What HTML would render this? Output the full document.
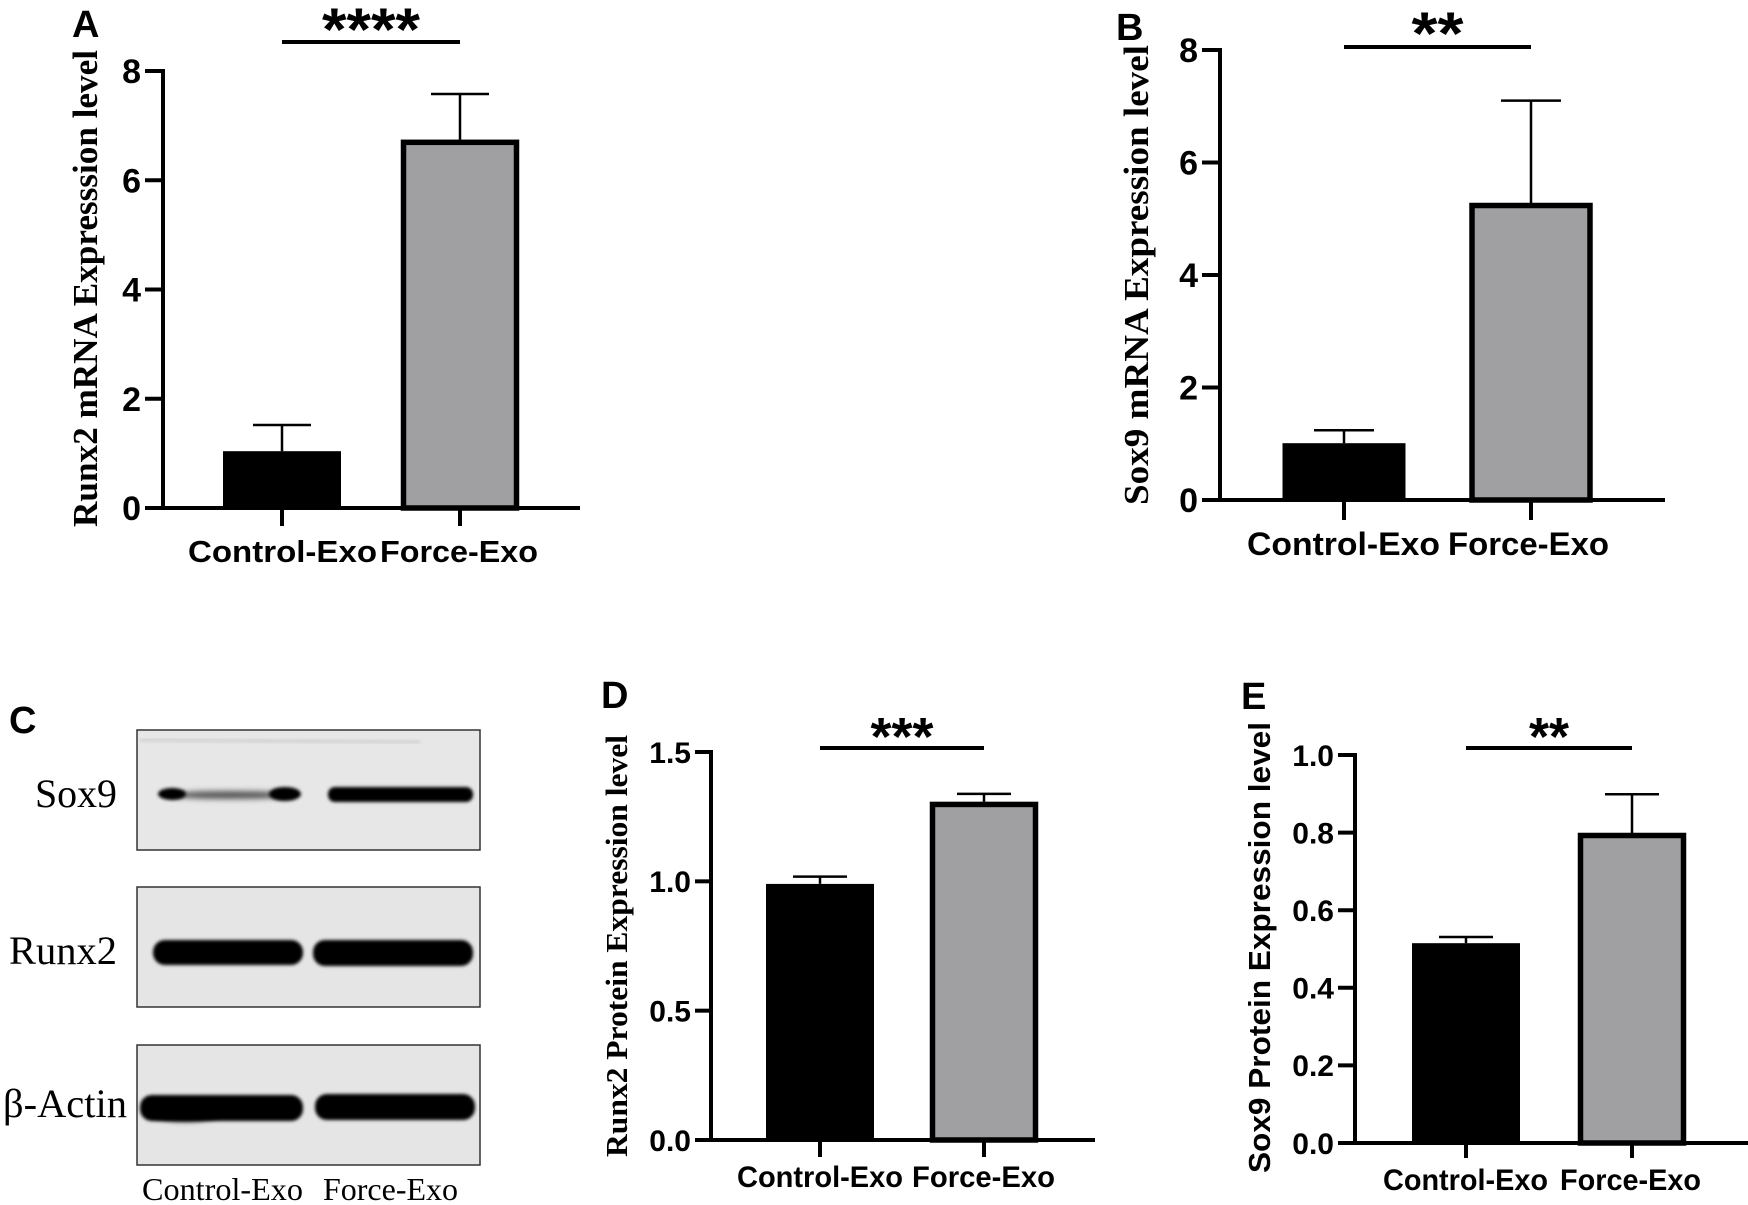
<!DOCTYPE html>
<html><head><meta charset="utf-8">
<style>
html,body{margin:0;padding:0;background:#fff;}
svg{display:block;}
.tk{font-family:"Liberation Sans",Arial,sans-serif;font-weight:bold;fill:#000;}
.xl{font-family:"Liberation Sans",Arial,sans-serif;font-weight:bold;fill:#000;}
.pl{font-family:"Liberation Sans",Arial,sans-serif;font-weight:bold;font-size:38px;fill:#000;}
.st{font-family:"Liberation Sans",Arial,sans-serif;font-weight:bold;fill:#000;}
.serif{font-family:"Liberation Serif","Times New Roman",serif;fill:#000;}
</style></head>
<body>
<svg id="fig" width="1748" height="1205" viewBox="0 0 1748 1205" xmlns="http://www.w3.org/2000/svg">
<defs>
<filter id="blur" x="-20%" y="-100%" width="140%" height="300%"><feGaussianBlur stdDeviation="3"/></filter>
<filter id="blur2" x="-20%" y="-100%" width="140%" height="300%"><feGaussianBlur stdDeviation="1.5"/></filter>
</defs>

<text class="pl" x="72" y="37">A</text>
<text class="pl" x="1116" y="40">B</text>
<text class="pl" x="9" y="733">C</text>
<text class="pl" x="601" y="708">D</text>
<text class="pl" x="1241" y="709">E</text>

<g>
  <g>
    <rect x="137" y="730" width="343" height="120" fill="#e7e7e7" stroke="#333" stroke-width="1.5"/>
    <line x1="140" y1="740" x2="420" y2="742" stroke="#c4c4c4" stroke-width="2" filter="url(#blur2)"/>
    <ellipse cx="230" cy="795" rx="60" ry="4" fill="#555" filter="url(#blur)"/>
    <ellipse cx="172" cy="794" rx="14" ry="6" fill="#000" filter="url(#blur2)"/>
    <ellipse cx="285" cy="794" rx="16" ry="7" fill="#000" filter="url(#blur2)"/>
    <rect x="328" y="787" width="145" height="15" rx="7" fill="#000" filter="url(#blur2)"/>
  </g>
  <text class="serif" x="35" y="807" font-size="40" textLength="82" lengthAdjust="spacingAndGlyphs">Sox9</text>
  <g>
    <rect x="137" y="887" width="343" height="120" fill="#e5e5e5" stroke="#333" stroke-width="1.5"/>
    <rect x="153" y="940" width="150" height="25" rx="12" fill="#000" filter="url(#blur2)"/>
    <rect x="313" y="940" width="160" height="26" rx="12" fill="#000" filter="url(#blur2)"/>
  </g>
  <text class="serif" x="9" y="964" font-size="40" textLength="108" lengthAdjust="spacingAndGlyphs">Runx2</text>
  <g>
    <rect x="137" y="1045" width="343" height="120" fill="#e5e5e5" stroke="#333" stroke-width="1.5"/>
    <rect x="140" y="1095" width="163" height="26" rx="12" fill="#000" filter="url(#blur2)"/>
    <ellipse cx="185" cy="1113" rx="35" ry="8" fill="#000" filter="url(#blur)"/>
    <rect x="315" y="1094" width="160" height="26" rx="12" fill="#000" filter="url(#blur2)"/>
  </g>
  <text class="serif" x="3" y="1117" font-size="40" textLength="124" lengthAdjust="spacingAndGlyphs">β-Actin</text>
  <text class="serif" x="142" y="1200" font-size="32" textLength="161" lengthAdjust="spacingAndGlyphs">Control-Exo</text>
  <text class="serif" x="323" y="1200" font-size="32" textLength="135" lengthAdjust="spacingAndGlyphs">Force-Exo</text>
</g>
</svg>

<script>
const categories = ["Control-Exo", "Force-Exo"];
const runx2MrnaMean = [1.04, 6.74];
const runx2MrnaSem = [0.48, 0.84];
const runx2MrnaTicks = [0, 2, 4, 6, 8];
const runx2MrnaTickLabels = ["0", "2", "4", "6", "8"];
const runx2MrnaStars = "****";

const sox9MrnaMean = [1.01, 5.28];
const sox9MrnaSem = [0.23, 1.82];
const sox9MrnaTicks = [0, 2, 4, 6, 8];
const sox9MrnaTickLabels = ["0", "2", "4", "6", "8"];
const sox9MrnaStars = "**";

const runx2ProteinMean = [0.99, 1.307];
const runx2ProteinSem = [0.028, 0.031];
const runx2ProteinTicks = [0, 0.5, 1.0, 1.5];
const runx2ProteinTickLabels = ["0.0", "0.5", "1.0", "1.5"];
const runx2ProteinStars = "***";

const sox9ProteinMean = [0.515, 0.799];
const sox9ProteinSem = [0.016, 0.10];
const sox9ProteinTicks = [0, 0.2, 0.4, 0.6, 0.8, 1.0];
const sox9ProteinTickLabels = ["0.0", "0.2", "0.4", "0.6", "0.8", "1.0"];
const sox9ProteinStars = "**";

const NS = "http://www.w3.org/2000/svg";
const svg = document.getElementById("fig");
function mk(tag, attrs, parent) {
  const e = document.createElementNS(NS, tag);
  for (const k in attrs) e.setAttribute(k, attrs[k]);
  (parent || svg).appendChild(e);
  return e;
}

function drawChart(L, means, sems, ticks, tickLabels, stars, titleText, id) {
  const g = mk("g", {});
  
  
  const yMax = ticks[ticks.length - 1];
  const y = v => L.y0 - v * (L.y0 - L.yTop) / yMax;
  const xc = i => L.cx[i];

  means.forEach((m, i) => {
    const left = xc(i) - L.barW / 2;
    const top = y(m);
    let r;
    if (i === 0) {
      r = mk("rect", {x: left, y: top, width: L.barW, height: L.y0 - top, fill: "#000"}, g);
    } else {
      r = mk("rect", {x: left + 2.5, y: top + 2.5, width: L.barW - 5, height: L.y0 - top - 2.5, fill: "#a0a0a2", stroke: "#000", "stroke-width": 5.5}, g);
    }
    
    
    const eTop = y(m + sems[i]);
    const eb = mk("path", {d: `M${xc(i)},${top} L${xc(i)},${eTop} M${xc(i) - L.cap},${eTop} L${xc(i) + L.cap},${eTop}`, stroke: "#000", "stroke-width": 2.5, fill: "none"}, g);
    
    
  });

  const ya = mk("line", {x1: L.ax, y1: L.yTop - 2, x2: L.ax, y2: L.y0 + 2, stroke: "#000", "stroke-width": 4}, g);
  
  
  ticks.forEach((t, i) => {
    const ty = y(t);
    const tl = mk("line", {x1: L.tickL, y1: ty, x2: L.ax, y2: ty, stroke: "#000", "stroke-width": 4}, g);
    
    
    const tx = mk("text", {x: L.tickL - 4, y: ty + L.tickFs * 0.36, "text-anchor": "end", class: "tk", "font-size": L.tickFs}, g);
    tx.textContent = tickLabels[i];
    
    
  });
  const xa = mk("line", {x1: L.tickL, y1: L.y0, x2: L.xEnd, y2: L.y0, stroke: "#000", "stroke-width": 4}, g);
  
  
  categories.forEach((c, i) => {
    const tk = mk("line", {x1: xc(i), y1: L.y0, x2: xc(i), y2: L.tickB, stroke: "#000", "stroke-width": 4}, g);
    
    
    const lab = mk("text", {x: L.lab[i][0], y: L.labY, class: "xl", "font-size": L.labFs, textLength: L.lab[i][1], lengthAdjust: "spacingAndGlyphs"}, g);
    lab.textContent = c;
    
    
  });
  const sl = mk("line", {x1: xc(0), y1: L.sigY, x2: xc(1), y2: L.sigY, stroke: "#000", "stroke-width": 4}, g);
  
  
  const sw = stars.length * L.starW;
  const st = mk("text", {x: (xc(0) + xc(1)) / 2 - sw / 2, y: L.starY, class: "st", "font-size": L.starFs, textLength: sw, lengthAdjust: "spacingAndGlyphs"}, g);
  st.textContent = stars;
  
  
  const tt = mk("text", {x: 0, y: 0, class: L.titleSerif ? "serif" : "xl", "font-weight": "bold", "font-size": L.titleFs,
    textLength: L.titleLen, lengthAdjust: "spacingAndGlyphs",
    transform: `translate(${L.titleX},${L.titleBottom}) rotate(-90)`}, g);
  tt.textContent = titleText;
  
  
}

drawChart({ax:163, yTop:71, y0:508, tickL:145, tickB:526, xEnd:580, cx:[282,460], barW:118, cap:29, tickFs:34,
  lab:[[188,189],[380,158]], labY:562, labFs:31, sigY:42, starY:50, starFs:60, starW:24.5,
  titleSerif:true, titleFs:35, titleLen:477, titleX:97, titleBottom:527},
  runx2MrnaMean, runx2MrnaSem, runx2MrnaTicks, runx2MrnaTickLabels, runx2MrnaStars, "Runx2 mRNA Expresssion level", "runx2-mrna");

drawChart({ax:1220, yTop:50, y0:500, tickL:1202, tickB:520, xEnd:1665, cx:[1344,1531], barW:123, cap:30, tickFs:34,
  lab:[[1247,193],[1448,161]], labY:555, labFs:32, sigY:47, starY:54, starFs:60, starW:26,
  titleSerif:true, titleFs:35, titleLen:460, titleX:1148, titleBottom:505},
  sox9MrnaMean, sox9MrnaSem, sox9MrnaTicks, sox9MrnaTickLabels, sox9MrnaStars, "Sox9 mRNA Expression level", "sox9-mrna");

drawChart({ax:711, yTop:752, y0:1140, tickL:695, tickB:1157, xEnd:1095, cx:[820,984], barW:108, cap:27, tickFs:30,
  lab:[[737,166],[912,143]], labY:1187, labFs:30, sigY:748, starY:755, starFs:54, starW:21,
  titleSerif:true, titleFs:31, titleLen:422, titleX:627, titleBottom:1157},
  runx2ProteinMean, runx2ProteinSem, runx2ProteinTicks, runx2ProteinTickLabels, runx2ProteinStars, "Runx2 Protein Expression level", "runx2-protein");

drawChart({ax:1355, yTop:755, y0:1143, tickL:1338, tickB:1158, xEnd:1748, cx:[1466,1632], barW:108, cap:27, tickFs:30,
  lab:[[1383,165],[1560,141]], labY:1190, labFs:30, sigY:748, starY:755, starFs:54, starW:20,
  titleSerif:false, titleFs:31, titleLen:451, titleX:1270, titleBottom:1173},
  sox9ProteinMean, sox9ProteinSem, sox9ProteinTicks, sox9ProteinTickLabels, sox9ProteinStars, "Sox9 Protein Expression level", "sox9-protein");
</script>
</body></html>
